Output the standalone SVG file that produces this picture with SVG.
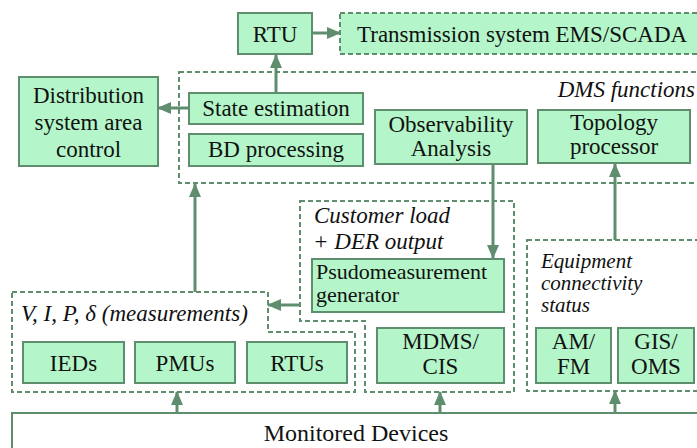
<svg xmlns="http://www.w3.org/2000/svg" width="697" height="448" viewBox="0 0 697 448">
<defs>
<style>
.box{fill:#b4f6c9;stroke:#5f8e6f;stroke-width:2}
.dbox{fill:#b4f6c9;stroke:#5f8e6f;stroke-width:2;stroke-dasharray:5 3}
.grp{fill:none;stroke:#5f8e6f;stroke-width:2;stroke-dasharray:5 3}
.solid{fill:none;stroke:#5f8e6f;stroke-width:2}
text{font-family:'Liberation Serif','DejaVu Serif',serif;font-size:23px;fill:#111}
.c{text-anchor:middle}
.i{font-style:italic}
.s{font-size:21px}
.ln{stroke:#5f8e6f;stroke-width:3;fill:none}
</style>
<marker id="ah" markerWidth="14" markerHeight="12" refX="13" refY="6" orient="auto" markerUnits="userSpaceOnUse">
<path d="M0,0 L14,6 L0,12 Z" fill="#5f8e6f"/>
</marker>
</defs>

<g id="monitored">
<rect class="solid" x="12" y="413" width="700" height="60" fill="#fff"/>
<text class="c" x="356" y="441" style="font-size:24px">Monitored Devices</text>
</g>

<g id="rtu">
<rect class="box" x="238" y="13" width="74" height="41"/>
<text class="c" x="275" y="42">RTU</text>
</g>

<g id="transmission">
<rect class="dbox" x="340" y="13" width="370" height="41"/>
<text x="357" y="42">Transmission system EMS/SCADA</text>
</g>

<g id="distribution">
<rect class="box" x="19" y="77" width="139" height="89"/>
<text class="c" x="88.5" y="103">Distribution</text>
<text class="c" x="88.5" y="130">system area</text>
<text class="c" x="88.5" y="157">control</text>
</g>

<g id="dms">
<rect class="grp" x="179" y="72" width="530" height="111"/>
<text class="i" x="695" y="97" text-anchor="end">DMS functions</text>
</g>

<g id="state-estimation">
<rect class="box" x="189" y="93" width="174" height="31"/>
<text class="c" x="276" y="116">State estimation</text>
</g>

<g id="bd-processing">
<rect class="box" x="189" y="134" width="174" height="32"/>
<text class="c" x="276" y="157">BD processing</text>
</g>

<g id="observability">
<rect class="box" x="375" y="110" width="152" height="54"/>
<text class="c" x="451" y="132">Observability</text>
<text class="c" x="451" y="156">Analysis</text>
</g>

<g id="topology">
<rect class="box" x="538" y="110" width="152" height="53"/>
<text class="c" x="614" y="130">Topology</text>
<text class="c" x="614" y="154">processor</text>
</g>

<g id="customer">
<path class="grp" d="M300,201 H514 V392 H365 V321 H300 Z"/>
<text class="i" x="314" y="223">Customer load</text>
<text class="i" x="313" y="249">+ DER output</text>
</g>

<g id="psudo">
<rect class="box" x="312" y="259" width="192" height="53"/>
<text x="316" y="279" style="font-size:22px">Psudomeasurement</text>
<text x="316" y="302" style="font-size:22px">generator</text>
</g>

<g id="measurements">
<path class="grp" d="M12,292 H268 V332 H355 V392 H12 Z"/>
<text class="i" x="21" y="321">V, I, P, δ (measurements)</text>
</g>

<g id="ieds">
<rect class="box" x="23" y="342" width="101" height="41"/>
<text class="c" x="73.5" y="371">IEDs</text>
</g>
<g id="pmus">
<rect class="box" x="135" y="342" width="100" height="41"/>
<text class="c" x="185" y="371">PMUs</text>
</g>
<g id="rtus">
<rect class="box" x="247" y="342" width="100" height="41"/>
<text class="c" x="297" y="371">RTUs</text>
</g>

<g id="mdms">
<rect class="box" x="377" y="328" width="127" height="55"/>
<text class="c" x="440.5" y="349">MDMS/</text>
<text class="c" x="440.5" y="374">CIS</text>
</g>

<g id="equipment">
<rect class="grp" x="527" y="240" width="190" height="151"/>
<text class="i s" x="541" y="268">Equipment</text>
<text class="i s" x="541" y="290">connectivity</text>
<text class="i s" x="541" y="312">status</text>
</g>

<g id="amfm">
<rect class="box" x="536" y="328" width="75" height="55"/>
<text class="c" x="573.5" y="349">AM/</text>
<text class="c" x="573.5" y="374">FM</text>
</g>
<g id="gisoms">
<rect class="box" x="618" y="328" width="76" height="55"/>
<text class="c" x="656" y="349">GIS/</text>
<text class="c" x="656" y="374">OMS</text>
</g>

<g id="connectors">
<line class="ln" x1="312" y1="33" x2="340" y2="33" marker-end="url(#ah)"/>
<line class="ln" x1="276" y1="93" x2="276" y2="55" marker-end="url(#ah)"/>
<line class="ln" x1="189" y1="108" x2="158" y2="108" marker-end="url(#ah)"/>
<line class="ln" x1="195" y1="292" x2="195" y2="184" marker-end="url(#ah)"/>
<line class="ln" x1="493" y1="164" x2="493" y2="258" marker-end="url(#ah)"/>
<line class="ln" x1="615" y1="240" x2="615" y2="164" marker-end="url(#ah)"/>
<line class="ln" x1="300" y1="305" x2="268" y2="305" marker-end="url(#ah)"/>
<line class="ln" x1="177" y1="413" x2="177" y2="392" marker-end="url(#ah)"/>
<line class="ln" x1="440" y1="413" x2="440" y2="392" marker-end="url(#ah)"/>
<line class="ln" x1="615" y1="413" x2="615" y2="391" marker-end="url(#ah)"/>
</g>
</svg>
